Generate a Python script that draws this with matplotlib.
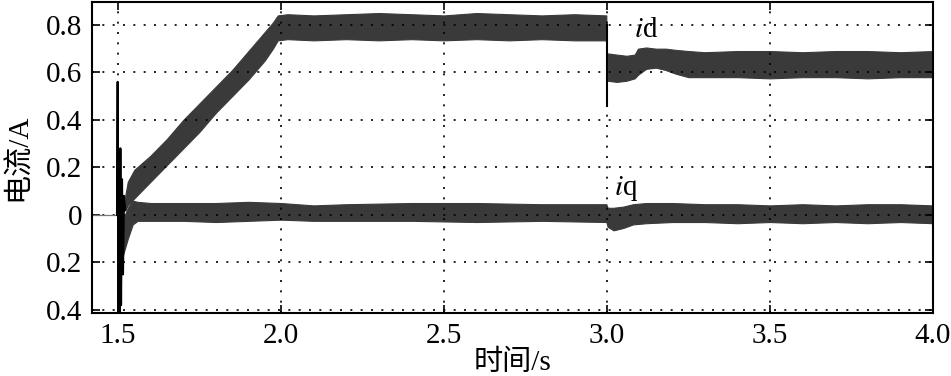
import matplotlib
matplotlib.use("Agg")
import matplotlib.pyplot as plt

plt.rcParams["font.family"] = ["Liberation Serif", "Noto Sans CJK SC"]
plt.rcParams["mathtext.fontset"] = "stix"

# --- data ---
# id band, before the step at 3.0 s (upper / lower envelope)
id_t1 = [1.522, 1.53, 1.55, 1.60, 1.65, 1.70, 1.75, 1.80, 1.85, 1.90, 1.95, 1.975, 1.99,
         2.02, 2.10, 2.20, 2.30, 2.40, 2.50, 2.60, 2.70, 2.80, 2.90, 2.998]
id_hi1 = [0.08, 0.14, 0.19, 0.25, 0.32, 0.40, 0.47, 0.54, 0.61, 0.69, 0.77, 0.81, 0.84,
          0.845, 0.84, 0.845, 0.85, 0.845, 0.84, 0.85, 0.845, 0.84, 0.845, 0.84]
id_lo1 = [0.02, 0.04, 0.07, 0.14, 0.21, 0.28, 0.35, 0.43, 0.50, 0.57, 0.65, 0.70, 0.735,
          0.74, 0.735, 0.74, 0.735, 0.74, 0.735, 0.74, 0.735, 0.74, 0.735, 0.735]

# id band after the step
id_t2 = [3.002, 3.03, 3.06, 3.085, 3.095, 3.12, 3.15, 3.18, 3.21, 3.25, 3.30, 3.40,
         3.50, 3.60, 3.70, 3.80, 3.90, 4.0]
id_hi2 = [0.68, 0.675, 0.67, 0.675, 0.70, 0.705, 0.70, 0.70, 0.695, 0.69, 0.685, 0.69,
          0.69, 0.685, 0.69, 0.69, 0.685, 0.69]
id_lo2 = [0.565, 0.56, 0.565, 0.575, 0.59, 0.615, 0.62, 0.61, 0.595, 0.58, 0.58, 0.58,
          0.575, 0.58, 0.58, 0.575, 0.58, 0.58]
step_t = [3.0, 3.0]
step_v = [0.80, 0.46]

# iq band
iq_t = [1.515, 1.53, 1.545, 1.56, 1.60, 1.70, 1.80, 1.90, 2.00, 2.10, 2.20, 2.40, 2.60,
        2.80, 2.998, 3.002, 3.02, 3.05, 3.08, 3.12, 3.20, 3.30, 3.40, 3.50, 3.60, 3.70,
        3.80, 3.90, 4.0]
iq_hi = [-0.02, 0.03, 0.06, 0.055, 0.05, 0.05, 0.05, 0.055, 0.05, 0.04, 0.045, 0.05, 0.05,
         0.045, 0.045, 0.03, 0.03, 0.035, 0.045, 0.05, 0.05, 0.045, 0.045, 0.04, 0.045, 0.04,
         0.045, 0.045, 0.04]
iq_lo = [-0.17, -0.10, -0.04, -0.025, -0.025, -0.025, -0.03, -0.025, -0.02, -0.025, -0.025,
         -0.025, -0.03, -0.025, -0.03, -0.05, -0.065, -0.055, -0.04, -0.035, -0.03, -0.03,
         -0.035, -0.03, -0.035, -0.03, -0.035, -0.03, -0.035]

# start-up transient around 1.5 s
tr_t = [1.497, 1.499, 1.501, 1.503, 1.505, 1.507, 1.509, 1.512, 1.515, 1.518, 1.522]
tr_v = [0.0, 0.56, -0.41, 0.10, -0.41, 0.28, -0.38, 0.15, -0.25, 0.08, 0.02]
pre_t = [1.42, 1.497]
pre_v = [0.0, 0.0]

xticks = [1.5, 2.0, 2.5, 3.0, 3.5, 4.0]
xtick_labels = ["1.5", "2.0", "2.5", "3.0", "3.5", "4.0"]
yticks = [0.8, 0.6, 0.4, 0.2, 0.0, -0.2, -0.4]
ytick_labels = ["0.8", "0.6", "0.4", "0.2", "0", "0.2", "0.4"]

band = "#3a3a3a"

fig = plt.figure(figsize=(9.51, 3.76), dpi=100)
ax = fig.add_axes([0.0967, 0.1676, 0.8843, 0.8274])

ax.plot(pre_t, pre_v, color="#777777", lw=0.9)
ax.fill_between(id_t1, id_lo1, id_hi1, color=band, lw=0.8, edgecolor=band)
ax.fill_between(id_t2, id_lo2, id_hi2, color=band, lw=0.8, edgecolor=band)
ax.fill_between(iq_t, iq_lo, iq_hi, color=band, lw=0.8, edgecolor=band)
ax.plot(step_t, step_v, color="black", lw=1.5)
ax.plot(tr_t, tr_v, color="black", lw=1.6)

ax.text(3.12, 0.78, r"$i$d", fontsize=21, ha="center", va="center")
ax.text(3.06, 0.11, r"$i$q", fontsize=21, ha="center", va="center")

ax.set_xlim(1.42, 4.0)
ax.set_ylim(-0.413, 0.897)
ax.set_xticks(xticks)
ax.set_xticklabels(xtick_labels)
ax.set_yticks(yticks)
ax.set_yticklabels(ytick_labels)
ax.tick_params(direction="in", length=6, width=1.2, top=True, right=True,
               labelsize=21, pad=7)
ax.grid(True, color="black", linestyle=(0, (1.2, 5)), lw=1.2)
for s in ax.spines.values():
    s.set_linewidth(1.5)

ax.set_xlabel("时间/s", fontsize=21, labelpad=1)
ax.set_ylabel("电流/A", fontsize=21, labelpad=10)

fig.savefig("out.png", dpi=100)
